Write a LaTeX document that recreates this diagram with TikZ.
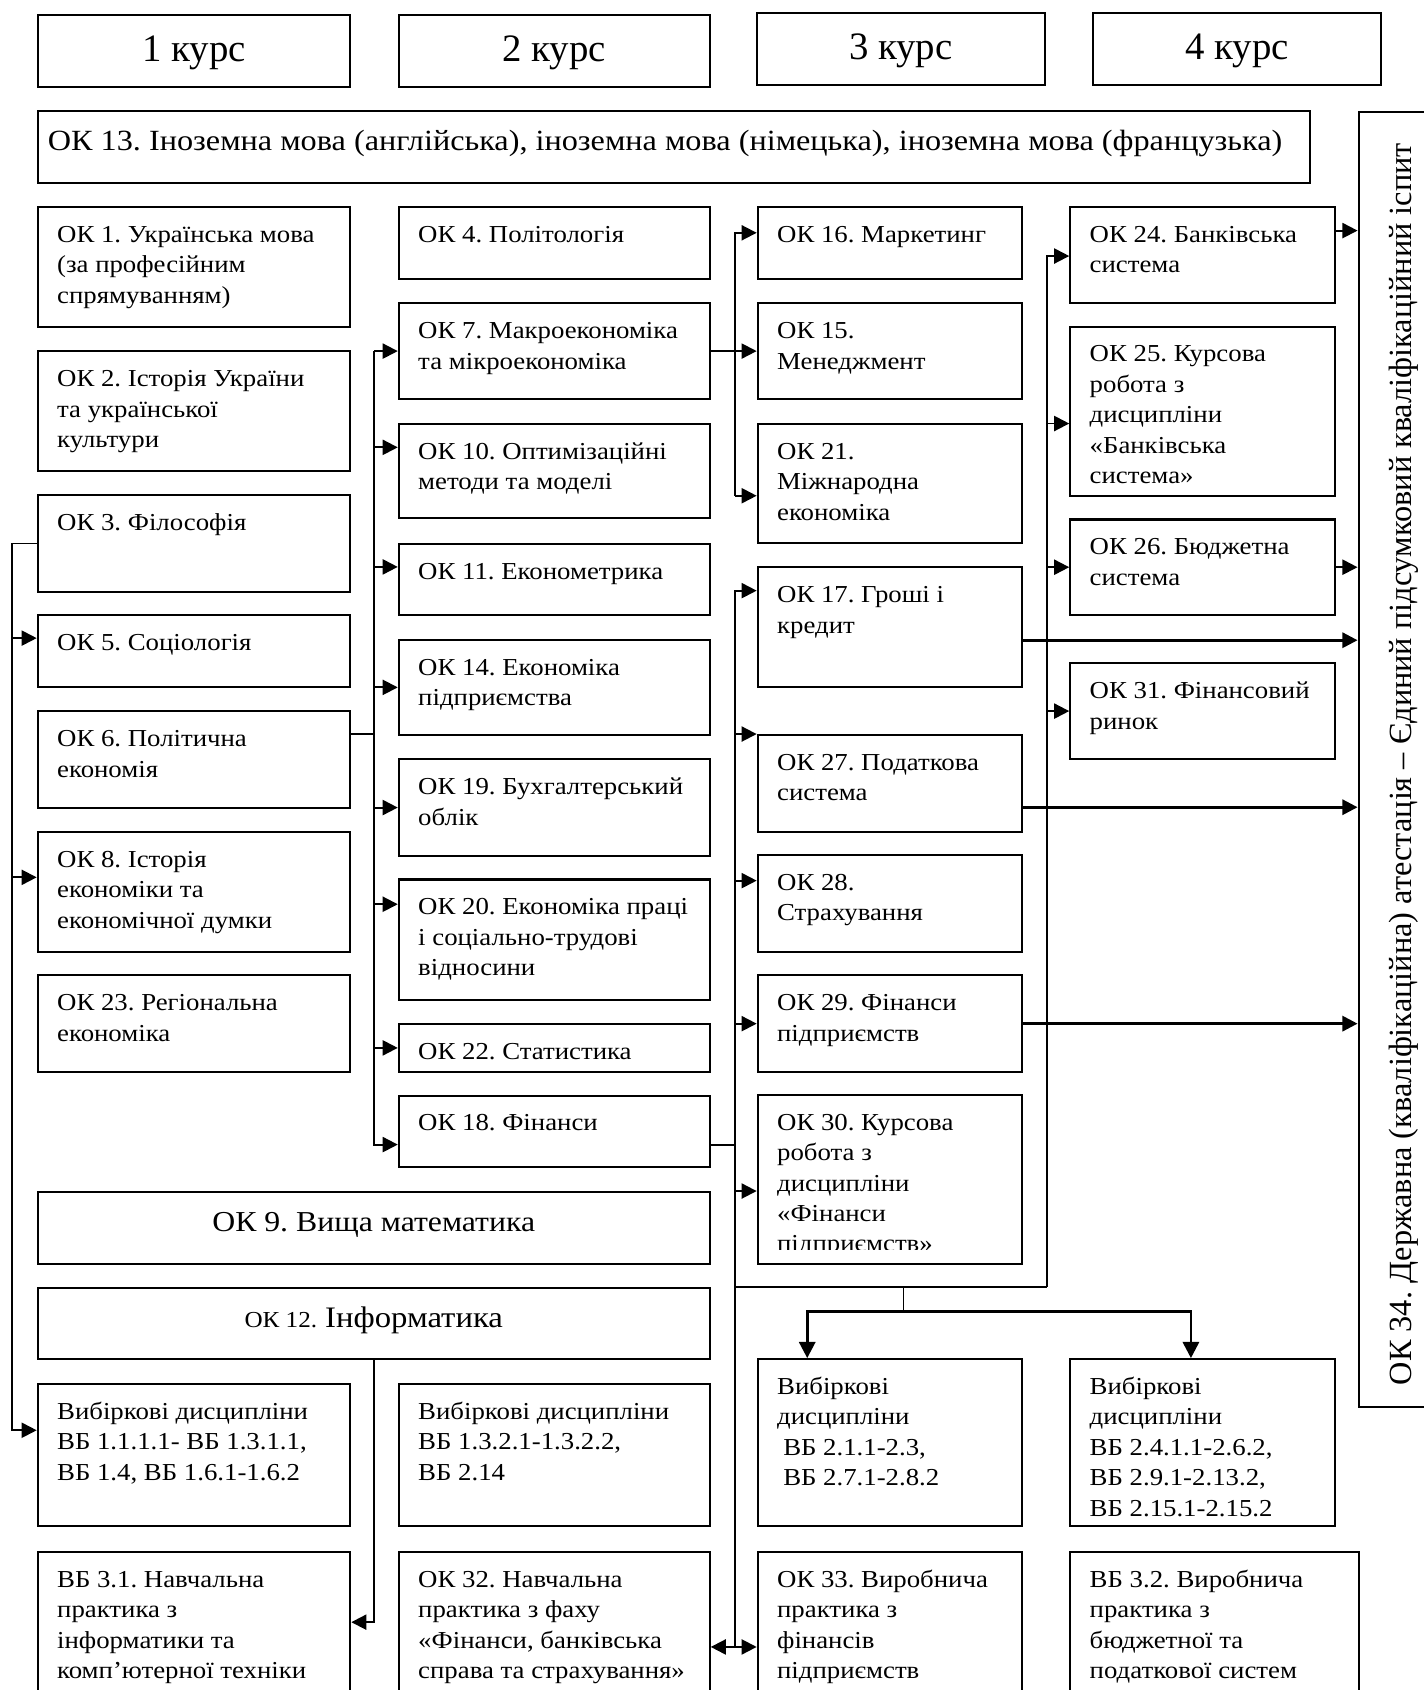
\documentclass[tikz,border=0pt]{standalone}
\usepackage{fontspec}
\setmainfont{Liberation Serif}
\newfontfamily\boxfont[FakeStretch=1.1]{Liberation Serif}
\frenchspacing
\usetikzlibrary{arrows.meta,fit}
\tikzset{
  box/.style={draw, line width=0.95pt, inner sep=0pt},
  txt/.style={font=\boxfont\fontsize{11.3}{14.1}\selectfont, align=left, inner sep=0pt, anchor=north west},
  hd/.style={font=\fontsize{18}{20}\selectfont, inner sep=0pt, anchor=base},
  big/.style={font=\boxfont\fontsize{13.6}{16}\selectfont, inner sep=0pt},
  rot/.style={font=\fontsize{15}{18}\selectfont, inner sep=0pt, anchor=base, rotate=90},
  ln/.style={line width=0.9pt},
  thn/.style={line width=0.6pt},
  thk/.style={line width=1.25pt},
  arr/.style={-{Triangle[length=7pt,width=7pt]}},
  arrd/.style={-{Triangle[length=7.5pt,width=7.5pt]}},
  darr/.style={{Triangle[length=7pt,width=7pt]}-{Triangle[length=7pt,width=7pt]}},
}
\newcommand\mkbox[5]{\path (#2,#3) coordinate (#1-a) (#4,#5) coordinate (#1-b);
  \node[box, fit=(#1-a)(#1-b)] (#1) {};}
\newcommand\mktext[2]{\node[txt] (#1-t) at ([xshift=9.3pt,yshift=-6.8pt]#1.north west) {\strut #2};}
\begin{document}
\begin{tikzpicture}[x=0.5pt,y=-0.5pt]
\useasboundingbox (0,0) rectangle (1321.2,1568);
\clip (0,0) rectangle (1321.2,1568);
% headers
\mkbox{H1}{35}{14}{325}{81}
\mkbox{H2}{370}{14}{658.5}{81}
\mkbox{H3}{702}{12}{969.5}{79}
\mkbox{H4}{1014}{12}{1281.5}{79}
\node[hd] (H1-t) at ([yshift=-5pt]H1.center) {1 курс};
\node[hd] (H2-t) at ([yshift=-5pt]H2.center) {2 курс};
\node[hd] (H3-t) at ([yshift=-5pt]H3.center) {3 курс};
\node[hd] (H4-t) at ([yshift=-5pt]H4.center) {4 курс};
% OK13
\mkbox{OK13}{35}{103}{1215.7}{169.5}
\node[big, anchor=base west] (OK13-t) at ([xshift=5pt,yshift=-1.8pt]OK13.west) {ОК 13. Іноземна мова (англійська), іноземна мова (німецька), іноземна мова (французька)};
% right box
\mkbox{OK34}{1260.5}{103.5}{1345}{1305.5}
\node[rot] (OK34-t) at (1310,709) {ОК 34. Державна (кваліфікаційна) атестація – Єдиний підсумковий кваліфікаційний іспит};
% column 1
\mkbox{OK1}{35}{192}{325}{303.5}
\mkbox{OK2}{35}{326}{325}{437}
\mkbox{OK3}{35}{459.5}{325}{549}
\mkbox{OK5}{35}{571}{325}{637.5}
\mkbox{OK6}{35}{660}{325}{749.5}
\mkbox{OK8}{35}{772}{325}{883}
\mkbox{OK23}{35}{905}{325}{994.5}
\mktext{OK1}{ОК 1. Українська мова\\(за професійним\\спрямуванням)}
\mktext{OK2}{ОК 2. Історія України\\та української\\культури}
\mktext{OK3}{ОК 3. Філософія}
\mktext{OK5}{ОК 5. Соціологія}
\mktext{OK6}{ОК 6. Політична\\економія}
\mktext{OK8}{ОК 8. Історія\\економіки та\\економічної думки}
\mktext{OK23}{ОК 23. Регіональна\\економіка}
% column 2
\mkbox{OK4}{370}{192}{658.5}{259}
\mkbox{OK7}{370}{281.5}{658.5}{370}
\mkbox{OK10}{370}{393.5}{658.5}{481}
\mkbox{OK11}{370}{504.5}{658.5}{570.5}
\mkbox{OK14}{370}{593.5}{658.5}{682}
\mkbox{OK19}{370}{704.5}{658.5}{794}
\mkbox{OK20}{370}{816}{658.5}{927.5}
\mkbox{OK22}{370}{950}{658.5}{994.5}
\mkbox{OK18}{370}{1016.5}{658.5}{1083}
\mktext{OK4}{ОК 4. Політологія}
\mktext{OK7}{ОК 7. Макроекономіка\\та мікроекономіка}
\mktext{OK10}{ОК 10. Оптимізаційні\\методи та моделі}
\mktext{OK11}{ОК 11. Економетрика}
\mktext{OK14}{ОК 14. Економіка\\підприємства}
\mktext{OK19}{ОК 19. Бухгалтерський\\облік}
\mktext{OK20}{ОК 20. Економіка праці\\і соціально-трудові\\відносини}
\mktext{OK22}{ОК 22. Статистика}
\mktext{OK18}{ОК 18. Фінанси}
% wide boxes
\mkbox{OK9}{35}{1105.5}{658.5}{1172.5}
\mkbox{OK12}{35}{1195}{658.5}{1261}
\node[big, font=\boxfont\fontsize{13.4}{16}\selectfont, anchor=base] (OK9-t) at ([yshift=-1.9pt]OK9.center) {ОК 9. Вища математика};
\node[big, anchor=base] (OK12-t) at ([yshift=-1.6pt]OK12.center) {{\fontsize{10.6}{14}\selectfont ОК 12.} {\fontsize{13.8}{16}\selectfont Інформатика}};
% column 3
\mkbox{OK16}{703}{192}{948.5}{259}
\mkbox{OK15}{703}{281.5}{948.5}{370}
\mkbox{OK21}{703}{393.5}{948.5}{504}
\mkbox{OK17}{703}{526.5}{948.5}{637.5}
\mkbox{OK27}{703}{682}{948.5}{771.5}
\mkbox{OK28}{703}{793.5}{948.5}{883}
\mkbox{OK29}{703}{905}{948.5}{994.5}
\mkbox{OK30}{703}{1016}{948.5}{1172.5}
\mktext{OK16}{ОК 16. Маркетинг}
\mktext{OK15}{ОК 15.\\Менеджмент}
\mktext{OK21}{ОК 21.\\Міжнародна\\економіка}
\mktext{OK17}{ОК 17. Гроші і\\кредит}
\mktext{OK27}{ОК 27. Податкова\\система}
\mktext{OK28}{ОК 28.\\Страхування}
\mktext{OK29}{ОК 29. Фінанси\\підприємств}
\begin{scope}
\clip (OK30.north west) rectangle (948.5,1159);
\mktext{OK30}{ОК 30. Курсова\\робота з\\дисципліни\\«Фінанси\\підприємств»}
\end{scope}
% column 4
\mkbox{OK24}{993}{192}{1238.5}{281.5}
\mkbox{OK25}{993}{303}{1238.5}{460.5}
\mkbox{OK26}{993}{482}{1238.5}{570.5}
\mkbox{OK31}{993}{615.5}{1238.5}{704}
\mktext{OK24}{ОК 24. Банківська\\система}
\mktext{OK25}{ОК 25. Курсова\\робота з\\дисципліни\\«Банківська\\система»}
\mktext{OK26}{ОК 26. Бюджетна\\система}
\mktext{OK31}{ОК 31. Фінансовий\\ринок}
% bottom rows
\mkbox{VB11}{35}{1284}{325}{1416}
\mkbox{VB13}{370}{1284}{658.5}{1416}
\mkbox{VB21}{703}{1261}{948.5}{1416}
\mkbox{VB24}{993}{1261}{1238.5}{1416}
\mktext{VB11}{Вибіркові дисципліни\\ВБ 1.1.1.1- ВБ 1.3.1.1,\\ВБ 1.4, ВБ 1.6.1-1.6.2}
\mktext{VB13}{Вибіркові дисципліни\\ВБ 1.3.2.1-1.3.2.2,\\ВБ 2.14}
\mktext{VB21}{Вибіркові\\дисципліни\\\hspace*{0.25em}ВБ 2.1.1-2.3,\\\hspace*{0.25em}ВБ 2.7.1-2.8.2}
\mktext{VB24}{Вибіркові\\дисципліни\\ВБ 2.4.1.1-2.6.2,\\ВБ 2.9.1-2.13.2,\\ВБ 2.15.1-2.15.2}
\mkbox{VB31}{35}{1440}{325}{1590}
\mkbox{OK32}{370}{1440}{658.5}{1590}
\mkbox{OK33}{703}{1440}{948.5}{1590}
\mkbox{VB32}{993}{1440}{1260.5}{1590}
\mktext{VB31}{ВБ 3.1. Навчальна\\практика з\\інформатики та\\комп’ютерної техніки}
\mktext{OK32}{ОК 32. Навчальна\\практика з фаху\\«Фінанси, банківська\\справа та страхування»}
\mktext{OK33}{ОК 33. Виробнича\\практика з\\фінансів\\підприємств}
\mktext{VB32}{ВБ 3.2. Виробнича\\практика з\\бюджетної та\\податкової систем}
% ---- connectors ----
\coordinate (tL) at (11.5,0);
\coordinate (tM) at (347,0);
\coordinate (t3) at (682,0);
\coordinate (t4) at (971,0);
% left trunk
\draw[ln,arr] (OK3.west) -- (OK3.west -| tL) |- ([yshift=11.5pt]VB11.west);
\draw[ln,arr] ([yshift=6.1pt]OK5.west -| tL) -- ([yshift=6.1pt]OK5.west);
\draw[ln,arr] ([yshift=6.75pt]OK8.west -| tL) -- ([yshift=6.75pt]OK8.west);
% middle trunk
\draw[ln] ([yshift=11.9pt]OK6.east) -- ([yshift=11.9pt]OK6.east -| tM);
\draw[ln,arr] (OK7.west -| tM) |- ([yshift=-6.1pt]OK18.west);
\draw[ln,arr] (OK7.west -| tM) -- (OK7.west);
\draw[ln,arr] ([yshift=11.1pt]OK10.west -| tM) -- ([yshift=11.1pt]OK10.west);
\draw[ln,arr] ([yshift=5.75pt]OK11.west -| tM) -- ([yshift=5.75pt]OK11.west);
\draw[ln,arr] (OK14.west -| tM) -- (OK14.west);
\draw[ln,arr] (OK19.west -| tM) -- (OK19.west);
\draw[ln,arr] ([yshift=16.4pt]OK20.west -| tM) -- ([yshift=16.4pt]OK20.west);
\draw[ln,arr] (OK22.west -| tM) -- (OK22.west);
% OK7 to column 3
\draw[ln,arr] (OK7.east) -- (OK15.west);
\draw[ln,arr] ([yshift=-5.6pt]OK21.west -| t3) |- ([yshift=4.75pt]OK16.west);
\draw[ln,arr] ([yshift=-5.6pt]OK21.west -| t3) -- ([yshift=-5.6pt]OK21.west);
% OK18 to column 3 lower trunk
\coordinate (bot) at (682,1529);
\draw[ln] ([yshift=-6.1pt]OK18.east) -- ([yshift=-6.1pt]OK18.east -| t3);
\draw[ln,arr] (bot) |- ([yshift=17pt]OK17.west);
\draw[ln,arr] (OK27.north west -| t3) -- (OK27.north west);
\draw[ln,arr] ([yshift=10.6pt]OK28.west -| t3) -- ([yshift=10.6pt]OK28.west);
\draw[ln,arr] (OK29.west -| t3) -- (OK29.west);
\draw[ln,arr] ([yshift=-5.4pt]OK30.west -| t3) -- ([yshift=-5.4pt]OK30.west);
\draw[ln,darr] ([yshift=-44.5pt]OK32.north east) -- ([yshift=-44.5pt]OK33.north west);
% column 4 trunk
\coordinate (hbL) at (682,1194);
\coordinate (hbR) at (971,1194);
\draw[thn] (hbL) -- (hbR);
\draw[ln,arr] (hbR) |- ([yshift=-0.4pt]OK24.west);
\draw[ln,arr] ([yshift=-5.6pt]OK25.west -| t4) -- ([yshift=-5.6pt]OK25.west);
\draw[ln,arr] (OK26.west -| t4) -- (OK26.west);
\draw[ln,arr] (OK31.west -| t4) -- (OK31.west);
% to elective boxes
\coordinate (st) at (838,1194);
\coordinate (sb) at (838,1217);
\draw[thn] (st) -- (sb);
\draw[thk,arrd] (sb) -| ([xshift=-38.4pt]VB21.north);
\draw[thk,arrd] (sb) -| ([xshift=-5.4pt]VB24.north);
% OK12 to VB31
\draw[ln,arr] (OK12.south) |- ([yshift=-33pt]VB31.north east);
% to final attestation
\draw[ln,arr] ([yshift=11.4pt]OK24.east) -- ([yshift=11.4pt]OK24.east -| OK34.west);
\draw[ln,arr] (OK26.east) -- (OK26.east -| OK34.west);
\draw[thk,arr] ([yshift=-6pt]OK17.east) -- ([yshift=-6pt]OK17.east -| OK34.west);
\draw[thk,arr] ([yshift=-11.1pt]OK27.east) -- ([yshift=-11.1pt]OK27.east -| OK34.west);
\draw[thk,arr] (OK29.east) -- (OK29.east -| OK34.west);
\end{tikzpicture}
\end{document}
